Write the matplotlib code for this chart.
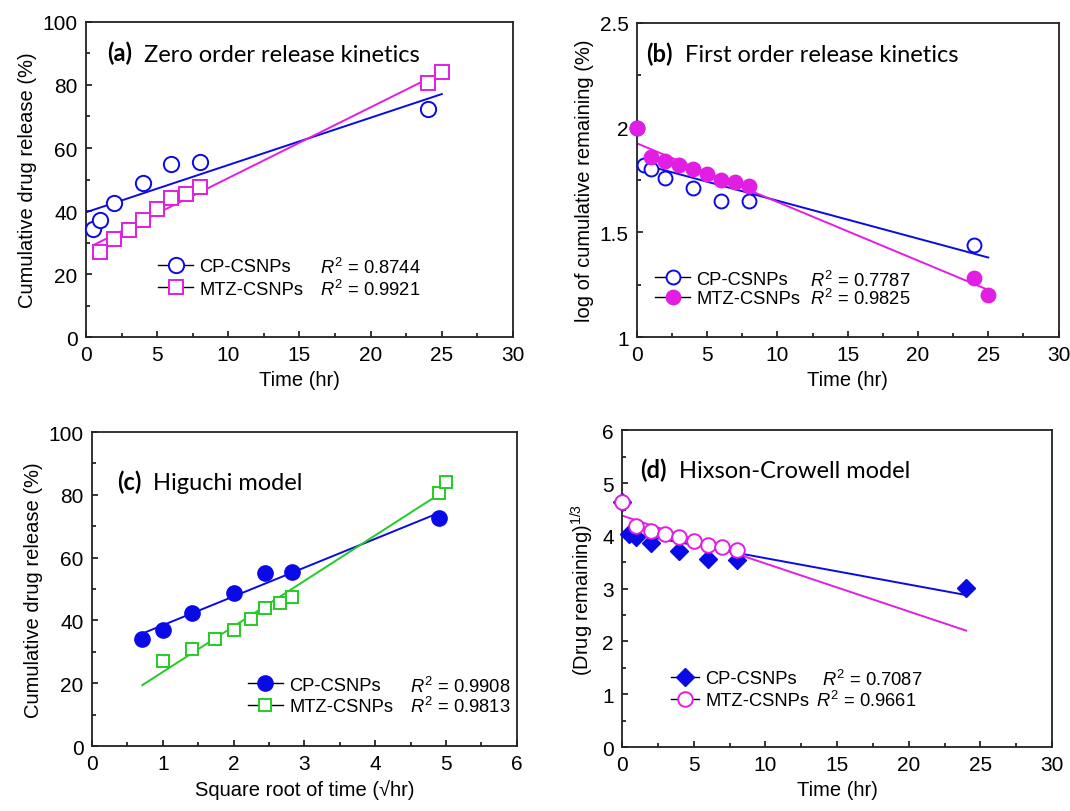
import numpy as np
import matplotlib
matplotlib.use("Agg")
from matplotlib import pyplot as plt
from matplotlib.lines import Line2D
from matplotlib.ticker import MultipleLocator, FormatStrFormatter

plt.rcParams['font.family'] = ['Liberation Sans', 'DejaVu Sans']
plt.rcParams['mathtext.fontset'] = 'custom'
plt.rcParams['mathtext.rm'] = 'Liberation Sans'
plt.rcParams['mathtext.it'] = 'Liberation Sans:italic'

# --- data ---
# (a) zero order: cumulative release (%) vs time (hr)
t_cp = [0.5, 1, 2, 4, 6, 8, 24]
rel_cp = [34.2, 37.0, 42.5, 48.8, 55.0, 55.5, 72.5]
t_mtz = [1, 2, 3, 4, 5, 6, 7, 8, 24, 25]
rel_mtz = [27.0, 31.0, 34.0, 37.0, 40.5, 44.0, 45.5, 47.5, 80.5, 84.0]

# (b) first order: log of cumulative remaining (t=0 CP point sits under the MTZ one)
t_cp_b = [0, 0.5, 1, 2, 4, 6, 8, 24]
log_cp = [2.0, 1.82, 1.80, 1.76, 1.71, 1.65, 1.65, 1.44]
t_mtz_b = [0, 1, 2, 3, 4, 5, 6, 7, 8, 24, 25]
log_mtz = [2.0, 1.86, 1.84, 1.82, 1.80, 1.78, 1.75, 1.74, 1.72, 1.28, 1.20]

# (c) Higuchi: release vs sqrt(time)
sq_cp = [0.71, 1.0, 1.41, 2.0, 2.45, 2.83, 4.90]
sq_mtz = [1.0, 1.41, 1.73, 2.0, 2.24, 2.45, 2.65, 2.83, 4.90, 5.0]

# (d) Hixson-Crowell: (drug remaining)^(1/3)
t_cp_d = [0, 0.5, 1, 2, 4, 6, 8, 24]
cube_cp = [4.64, 4.04, 3.98, 3.86, 3.71, 3.56, 3.54, 3.02]
t_mtz_d = [0, 1, 2, 3, 4, 5, 6, 7, 8]
cube_mtz = [4.64, 4.18, 4.10, 4.04, 3.98, 3.90, 3.83, 3.79, 3.74]

r2_a = ["0.8744", "0.9921"]
r2_b = ["0.7787", "0.9825"]
r2_c = ["0.9908", "0.9813"]
r2_d = ["0.7087", "0.9661"]

blue = "#0a0ae6"
magenta = "#e21ee2"
green = "#22cc22"

TICK_FS = 15
LAB_FS = 14.5
LEG_FS = 13.2


def fit_line(ax, x, y, xr, color):
    k, b = np.polyfit(x, y, 1)
    xs = np.array(xr)
    ax.plot(xs, k * xs + b, color=color, lw=1.4, zorder=2)


def style(ax, xmax, xmaj, ymax, ymaj, yfmt="%g"):
    ax.set_xlim(0, xmax)
    ax.set_ylim(0 if ymax > 3 else 1, ymax)
    ax.xaxis.set_major_locator(MultipleLocator(xmaj))
    ax.xaxis.set_minor_locator(MultipleLocator(xmaj / 2))
    ax.yaxis.set_major_locator(MultipleLocator(ymaj))
    ax.yaxis.set_minor_locator(MultipleLocator(ymaj / 2))
    ax.yaxis.set_major_formatter(FormatStrFormatter(yfmt))
    ax.xaxis.set_major_formatter(FormatStrFormatter("%g"))
    ax.tick_params(which="both", direction="in", top=False, right=False,
                   labelsize=TICK_FS, width=1.1)
    ax.tick_params(which="major", length=4.5, pad=6)
    ax.tick_params(which="minor", length=3)
    for s in ax.spines.values():
        s.set_linewidth(1.3)
        s.set_color("#222222")


def panel_title(ax, tag, text, x, y):
    t = ax.text(x, y, tag, transform=ax.transAxes, fontsize=17,
                fontweight="bold", family="Lato", va="bottom")
    ax.annotate("  " + text, xy=(1, 0), xycoords=t, fontsize=17,
                family="Lato", va="bottom")


def legend(ax, handles, labels, x, y, spacing, r2, r2x, hlen=1.9):
    ax.legend(handles, labels, loc="center left", bbox_to_anchor=(x, y),
              frameon=False, fontsize=LEG_FS, handlelength=hlen,
              handletextpad=0.35, borderpad=0, borderaxespad=0,
              labelspacing=spacing, numpoints=1)
    for i in range(2):
        ax.text(r2x[i], r2[i][0], "$R^2$ = " + r2[i][1], transform=ax.transAxes,
                fontsize=LEG_FS, va="center")


fig = plt.figure(figsize=(10.7, 8.12), dpi=100)
ax_a = fig.add_axes([0.0804, 0.5837, 0.399, 0.388])
ax_b = fig.add_axes([0.5953, 0.5837, 0.394, 0.387])
ax_c = fig.add_axes([0.086, 0.080, 0.397, 0.3867])
ax_d = fig.add_axes([0.5813, 0.0788, 0.402, 0.390])

# (a)
fit_line(ax_a, t_cp, rel_cp, [0, 25], blue)
fit_line(ax_a, t_mtz, rel_mtz, [0.5, 25], magenta)
ax_a.plot(t_cp, rel_cp, "o", ms=11, mfc="white", mec=blue, mew=1.4, zorder=3, clip_on=False)
ax_a.plot(t_mtz, rel_mtz, "s", ms=9.5, mfc="white", mec=magenta, mew=1.4, zorder=3, clip_on=False)
style(ax_a, 30, 5, 100, 20)
ax_a.set_xlabel("Time (hr)", fontsize=LAB_FS)
ax_a.set_ylabel("Cumulative drug release (%)", fontsize=LAB_FS)
panel_title(ax_a, "(a)", "Zero order release kinetics", 0.05, 0.865)
h = [Line2D([], [], color="k", lw=1, marker="o", ms=11, mfc="white", mec=blue, mew=1.4),
     Line2D([], [], color="k", lw=1, marker="s", ms=9.5, mfc="white", mec=magenta, mew=1.4)]
legend(ax_a, h, ["CP-CSNPs", "MTZ-CSNPs"], 0.169, 0.187, 0.3,
       [(0.222, r2_a[0]), (0.152, r2_a[1])], [0.548, 0.548])

# (b)
fit_line(ax_b, t_cp_b, log_cp, [0, 25], blue)
fit_line(ax_b, t_mtz_b, log_mtz, [0, 25], magenta)
ax_b.plot(t_cp_b, log_cp, "o", ms=10, mfc="white", mec=blue, mew=1.4, zorder=3, clip_on=False)
ax_b.plot(t_mtz_b, log_mtz, "o", ms=10, mfc=magenta, mec=magenta, mew=1.4, zorder=4, clip_on=False)
style(ax_b, 30, 5, 2.5, 0.5)
ax_b.set_xlabel("Time (hr)", fontsize=LAB_FS)
ax_b.set_ylabel("log of cumulative remaining (%)", fontsize=LAB_FS)
panel_title(ax_b, "(b)", "First order release kinetics", 0.022, 0.865)
h = [Line2D([], [], color="k", lw=1, marker="o", ms=10, mfc="white", mec=blue, mew=1.4),
     Line2D([], [], color="k", lw=1, marker="o", ms=10, mfc=magenta, mec=magenta, mew=1.4)]
legend(ax_b, h, ["CP-CSNPs", "MTZ-CSNPs"], 0.043, 0.153, 0.12,
       [(0.1815, r2_b[0]), (0.124, r2_b[1])], [0.41, 0.41])

# (c)
fit_line(ax_c, sq_cp, rel_cp, [0.71, 4.9], blue)
fit_line(ax_c, sq_mtz, rel_mtz, [0.71, 4.9], green)
ax_c.plot(sq_cp, rel_cp, "o", ms=11, mfc=blue, mec=blue, zorder=3, clip_on=False)
ax_c.plot(sq_mtz, rel_mtz, "s", ms=9, mfc="white", mec=green, mew=1.4, zorder=3, clip_on=False)
style(ax_c, 6, 1, 100, 20)
ax_c.set_xlabel("Square root of time (\u221ahr)", fontsize=LAB_FS)
ax_c.set_ylabel("Cumulative drug release (%)", fontsize=LAB_FS)
panel_title(ax_c, "(c)", "Higuchi model", 0.058, 0.805)
h = [Line2D([], [], color="k", lw=1, marker="o", ms=11, mfc=blue, mec=blue),
     Line2D([], [], color="k", lw=1, marker="s", ms=9, mfc="white", mec=green, mew=1.4)]
legend(ax_c, h, ["CP-CSNPs", "MTZ-CSNPs"], 0.367, 0.159, 0.25,
       [(0.191, r2_c[0]), (0.127, r2_c[1])], [0.748, 0.748])

# (d)
fit_line(ax_d, t_cp_d, cube_cp, [0, 24], blue)
fit_line(ax_d, t_mtz_d, cube_mtz, [0, 24], magenta)
ax_d.plot(t_cp_d, cube_cp, "D", ms=9, mfc=blue, mec=blue, zorder=3, clip_on=False)
ax_d.plot(t_mtz_d, cube_mtz, "o", ms=10.5, mfc="white", mec=magenta, mew=1.4, zorder=4, clip_on=False)
style(ax_d, 30, 5, 6, 1)
ax_d.set_xlabel("Time (hr)", fontsize=LAB_FS)
ax_d.set_ylabel("(Drug remaining)$^{1/3}$", fontsize=LAB_FS)
panel_title(ax_d, "(d)", "Hixson-Crowell model", 0.042, 0.84)
h = [Line2D([], [], color="k", lw=1, marker="D", ms=9, mfc=blue, mec=blue),
     Line2D([], [], color="k", lw=1, marker="o", ms=10.5, mfc="white", mec=magenta, mew=1.4)]
legend(ax_d, h, ["CP-CSNPs", "MTZ-CSNPs"], 0.113, 0.181, 0.25,
       [(0.2145, r2_d[0]), (0.148, r2_d[1])], [0.465, 0.45], hlen=1.55)

fig.savefig("out.png", dpi=100)
